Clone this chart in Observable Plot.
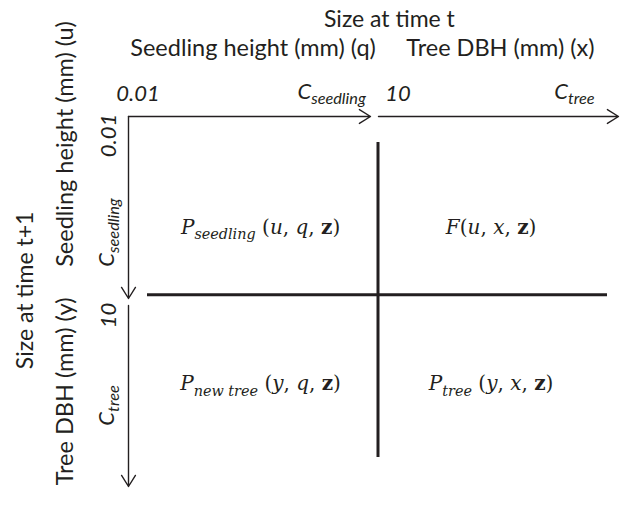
<!DOCTYPE html>
<html><head><meta charset="utf-8">
<script src="https://cdn.jsdelivr.net/npm/d3@7"></script>
<script src="https://cdn.jsdelivr.net/npm/@observablehq/plot@0.6"></script>
<style>body{margin:0;background:#fff}</style>
</head><body><div id="chart"></div>
<script>
// ---- content of the diagram ----
const stages = ["seedling", "tree"];                       // the two size segments
const startValues = ["0.01", "10"];                         // lower limit of each segment
const endLabels = ["C_{seedling}", "C_{tree}"];             // upper limit of each segment
const timeTTitle = "Size at time t";
const timeT1Title = "Size at time t+1";
const columnLabels = ["Seedling height (mm) (q)", "Tree DBH (mm) (x)"];
const rowLabels = ["Seedling height (mm) (u)", "Tree DBH (mm) (y)"];
const kernelRows = [0, 0, 1, 1];
const kernelCols = [0, 1, 0, 1];
const kernelLabels = ["P_{seedling} (u, q, z)", "F(u, x, z)", "P_{new tree} (y, q, z)", "P_{tree} (y, x, z)"];

const ink = "#231f20";
const sans = "Lato, 'Open Sans', sans-serif";
const serif = "'DejaVu Serif', serif";

const seg = stages.map((s, i) => ({s, i}));
const kernels = kernelLabels.map((label, k) => ({label, row: kernelRows[k], col: kernelCols[k]}));

// layout helpers (in segment units: each segment spans one unit)
const colCenter = [0.539, 1.48];
const rowCenter = [0.598, 1.446];

const plot = Plot.plot({
  width: 620, height: 514, margin: 0,
  x: {domain: [0, 2], range: [128, 618], axis: null},
  y: {domain: [0, 2], range: [116, 486], axis: null},
  marks: [
    // horizontal (time t) arrows
    Plot.arrow([seg[0]], {x1: d => d.i, x2: d => d.i + 1, y1: 0, y2: 0, insetEnd: 3, stroke: ink, strokeWidth: 1.4, headLength: 14, headAngle: 64}),
    Plot.arrow([seg[1]], {x1: d => d.i, x2: d => d.i + 1, y1: 0, y2: 0, insetStart: 5, stroke: ink, strokeWidth: 1.4, headLength: 14, headAngle: 64}),
    // vertical (time t+1) arrows
    Plot.arrow([seg[0]], {y1: d => d.i, y2: d => d.i + 1, x1: 0, x2: 0, insetEnd: 3, stroke: ink, strokeWidth: 1.4, headLength: 14, headAngle: 64}),
    Plot.arrow([seg[1]], {y1: d => d.i, y2: d => d.i + 1, x1: 0, x2: 0, insetStart: 4, stroke: ink, strokeWidth: 1.4, headLength: 14, headAngle: 64}),
    // dividing lines between the kernel blocks
    Plot.ruleX([1], {y1: 0, y2: 2, dx: 4.5, insetTop: 26, insetBottom: 29, stroke: ink, strokeWidth: 3}),
    Plot.ruleY([1], {x1: 0, x2: 2, dy: -6.7, insetLeft: 19, insetRight: 11, stroke: ink, strokeWidth: 3}),
    // titles
    Plot.text([timeTTitle], {x: 1.065, y: 0, dy: -97, text: d => d, fontFamily: sans, fontSize: 23, fill: ink}),
    Plot.text([timeT1Title], {x: 0, y: 0.94, dx: -103, rotate: -90, text: d => d, fontFamily: sans, fontSize: 23, fill: ink}),
    Plot.text(columnLabels, {x: (d, i) => [0.508, 1.518][i], y: 0, dy: -68, text: d => d, fontFamily: sans, fontSize: 23.5, fill: ink}),
    Plot.text(rowLabels, {y: (d, i) => [0.149, 1.486][i], x: 0, dx: -63, rotate: -90, text: d => d, fontFamily: sans, fontSize: 23.5, fill: ink}),
    // segment limits along the top
    Plot.text(startValues, {x: (d, i) => [0.039, 1.1][i], y: 0, dy: -23, text: d => d, fontFamily: sans, fontStyle: "italic", fontSize: 22, fill: ink}),
    Plot.text(endLabels, {x: (d, i) => [0.829, 1.82][i], y: 0, dy: -25, text: d => d, fontFamily: sans, fontStyle: "italic", fontSize: 22, fill: ink}),
    // segment limits along the side
    Plot.text(startValues, {y: (d, i) => [0.103, 1.076][i], x: 0, dx: -20, rotate: -90, text: d => d, fontFamily: sans, fontStyle: "italic", fontSize: 22, fill: ink}),
    Plot.text(endLabels, {y: (d, i) => [0.627, 1.562][i], x: 0, dx: -22, rotate: -90, text: d => d, fontFamily: sans, fontStyle: "italic", fontSize: 22, fill: ink}),
    // kernel labels
    Plot.text(kernels, {x: d => colCenter[d.col], y: d => rowCenter[d.row], text: "label", fontFamily: serif, fontSize: 20, fill: ink})
  ]
});
document.getElementById("chart").append(plot);

// turn "X_{sub} (a, b, z)" into real subscripts and math styling
const NS = "http://www.w3.org/2000/svg";
plot.querySelectorAll("text").forEach(t => {
  const s = t.textContent;
  const m = s.match(/^([A-Z])(?:_\{([^}]*)\})?(\s*\(.*\))?$/);
  if (!m) return;
  const [, base, sub, restRaw] = m;
  const rest = restRaw || "";
  if (sub === undefined && !rest) return;
  const fs = parseFloat(getComputedStyle(t).fontSize);
  const math = getComputedStyle(t).fontFamily.includes("Serif");
  t.textContent = "";
  const add = (str, attrs) => {
    const ts = document.createElementNS(NS, "tspan");
    ts.textContent = str;
    for (const k in attrs) ts.setAttribute(k, attrs[k]);
    t.appendChild(ts);
  };
  add(base, {"font-style": "italic"});
  let shift = 0;
  if (sub !== undefined) {
    shift = fs * (math ? 0.28 : 0.25);
    add(sub, {"font-size": fs * (math ? 0.72 : 0.74), dy: shift, "font-style": "italic"});
  }
  const tokens = rest.match(/[a-y]+|z|[^a-z]+/g) || [];
  tokens.forEach((tok, j) => {
    const attrs = {};
    if (j === 0 && shift) attrs.dy = -shift;
    if (tok === "z") { attrs["font-weight"] = "bold"; attrs["font-style"] = "normal"; }
    else if (/^[a-y]+$/.test(tok)) attrs["font-style"] = "italic";
    else attrs["font-style"] = "normal";
    add(tok, attrs);
  });
});
</script>
</body></html>
